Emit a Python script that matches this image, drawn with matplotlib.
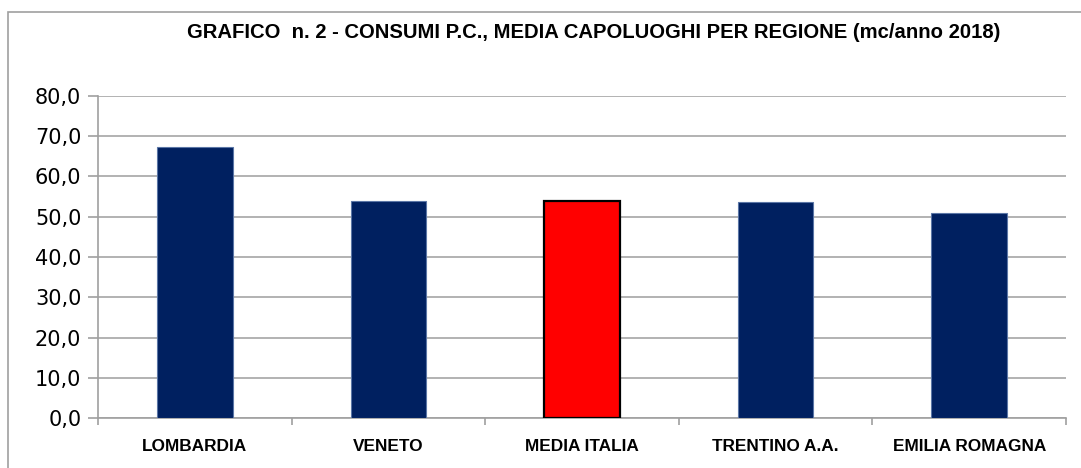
import matplotlib.pyplot as plt
from matplotlib.patches import Rectangle

# Data
regioni = ["LOMBARDIA", "VENETO", "MEDIA ITALIA", "TRENTINO A.A.", "EMILIA ROMAGNA"]
consumi = [67.3, 54.0, 53.9, 53.6, 51.0]
colori = ["#002060", "#002060", "#FF0000", "#002060", "#002060"]
bordi = ["#5b76a6", "#5b76a6", "#000000", "#5b76a6", "#5b76a6"]
spessori = [0.8, 0.8, 1.6, 0.8, 0.8]
y_ticks = [0, 10, 20, 30, 40, 50, 60, 70, 80]

fig = plt.figure(figsize=(10.81, 4.68), dpi=100)
ax = fig.add_axes([98 / 1081, 1 - 418 / 468, 968 / 1081, 322 / 468])

x = list(range(len(regioni)))
ax.bar(x, consumi, width=0.39, color=colori, edgecolor=bordi, linewidth=spessori, zorder=3)

ax.set_xlim(-0.5, len(regioni) - 0.5)
ax.set_ylim(0, 80)
ax.set_yticks(y_ticks)
ax.set_yticklabels([f"{v:.1f}".replace(".", ",") for v in y_ticks],
                   fontsize=15, family="DejaVu Sans")
ax.set_xticks(x)
ax.set_xticklabels(regioni, fontsize=12.4, fontweight="bold", family="Liberation Sans")
ax.set_xticks([i - 0.5 for i in range(len(regioni) + 1)], minor=True)

ax.tick_params(axis="x", which="major", length=0, pad=15)
ax.tick_params(axis="x", which="minor", length=5, width=1.2, color="#a0a0a0", direction="out")
ax.tick_params(axis="y", length=7, width=1.2, color="#a0a0a0", pad=5)

ax.grid(axis="y", color="#a6a6a6", linewidth=1.2, zorder=0)
for s in ["top", "right"]:
    ax.spines[s].set_visible(False)
for s in ["left", "bottom"]:
    ax.spines[s].set_color("#a0a0a0")
    ax.spines[s].set_linewidth(1.2)

# chart area border (cut by the image on right and bottom)
fig.patches.append(Rectangle((8 / 1081, -0.2), 1.5, 1.2 - 12 / 468, transform=fig.transFigure,
                             fill=False, edgecolor="#a0a0a0", linewidth=1.2))

fig.text(594 / 1081, 1 - 33 / 468,
         "GRAFICO  n. 2 - CONSUMI P.C., MEDIA CAPOLUOGHI PER REGIONE (mc/anno 2018)",
         ha="center", va="center", fontsize=14.6, fontweight="bold", family="Liberation Sans")

fig.savefig("out.png", dpi=100)
